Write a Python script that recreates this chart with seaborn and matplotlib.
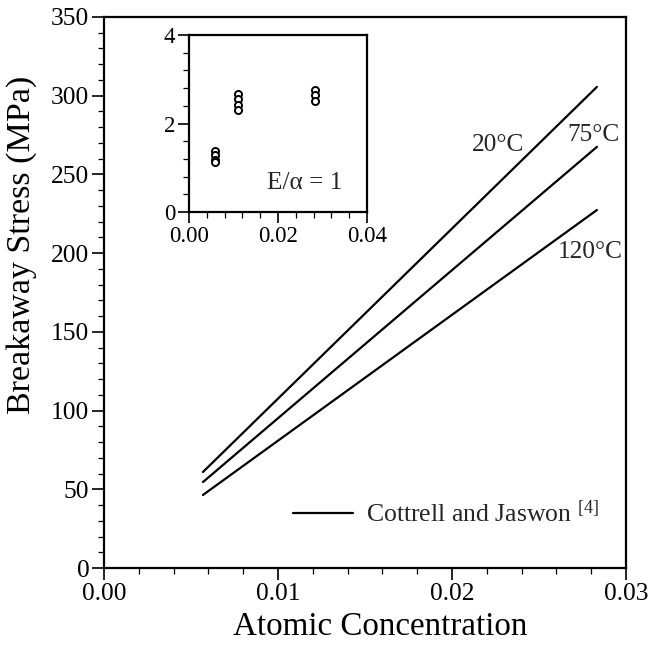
import matplotlib
matplotlib.use("Agg")
import matplotlib.pyplot as plt
from matplotlib.lines import Line2D
from matplotlib.ticker import MultipleLocator, FormatStrFormatter
import seaborn as sns
import pandas as pd

# Cottrell–Jaswon breakaway stress predictions (end points of each straight line)
conc = [0.00569, 0.02833]
stress_20C = [61.0, 305.6]
stress_75C = [54.6, 267.5]
stress_120C = [46.4, 227.4]
temp_labels = ["20°C", "75°C", "120°C"]

# Inset: ratio data at E/alpha = 1
inset_conc = [0.0058, 0.0058, 0.0058, 0.0058,
              0.0110, 0.0110, 0.0110, 0.0110,
              0.0283, 0.0283, 0.0283]
inset_ratio = [1.38, 1.28, 1.18, 1.12,
               2.67, 2.56, 2.42, 2.31,
               2.75, 2.65, 2.52]

sns.set_style("ticks")
plt.rcParams["font.family"] = ["Liberation Serif", "DejaVu Serif"]
plt.rcParams["mathtext.fontset"] = "custom"
plt.rcParams["mathtext.rm"] = "Liberation Serif"
plt.rcParams["mathtext.it"] = "Liberation Serif:italic"

df = pd.DataFrame({
    "conc": conc * 3,
    "stress": stress_20C + stress_75C + stress_120C,
    "temp": [t for t in temp_labels for _ in conc],
})

fig = plt.figure(figsize=(6.62, 6.46), dpi=100)
ax = fig.add_axes([0.157, 0.1207, 0.7886, 0.853])

sns.lineplot(data=df, x="conc", y="stress", units="temp", estimator=None,
             color="black", lw=1.6, legend=False, ax=ax)

ax.set_xlim(0, 0.03)
ax.set_ylim(0, 350)
ax.xaxis.set_major_locator(MultipleLocator(0.01))
ax.xaxis.set_minor_locator(MultipleLocator(0.002))
ax.xaxis.set_major_formatter(FormatStrFormatter("%.2f"))
ax.yaxis.set_major_locator(MultipleLocator(50))
ax.yaxis.set_minor_locator(MultipleLocator(10))
ax.tick_params(which="major", direction="out", length=8.5, width=1.2,
               labelsize=18.4, color="black", labelcolor="black", pad=2)
ax.tick_params(which="minor", direction="out", length=4, width=0.9, color="black")
for s in ax.spines.values():
    s.set_linewidth(1.6)
    s.set_color("black")
ax.set_xlabel("Atomic Concentration", fontsize=23.8, color="black")
ax.set_ylabel("Breakaway Stress (MPa)", fontsize=24.5, color="black")
ax.xaxis.set_label_coords(0.529, -0.078)
ax.yaxis.set_label_coords(-0.128, 0.586)

ax.text(0.02115, 269, "20°C", fontsize=18.3, ha="left", va="center")
ax.text(0.02966, 275, "75°C", fontsize=18.3, ha="right", va="center")
ax.text(0.0261, 201, "120°C", fontsize=18.3, ha="left", va="center")

handle = Line2D([], [], color="black", lw=1.6)
ax.legend([handle], ["Cottrell and Jaswon $^{[4]}$"], loc="lower left",
          bbox_to_anchor=(0.3185, 0.0327), frameon=False, fontsize=18.5,
          handlelength=2.34, handletextpad=0.5)

# Inset
ins = fig.add_axes([0.2855, 0.6718, 0.269, 0.274])
sns.scatterplot(x=inset_conc, y=inset_ratio, marker="o", s=26,
                facecolor="white", edgecolor="black", linewidth=1.4, ax=ins)
ins.set_xlim(0, 0.04)
ins.set_ylim(0, 4)
ins.xaxis.set_major_locator(MultipleLocator(0.02))
ins.xaxis.set_minor_locator(MultipleLocator(0.004))
ins.xaxis.set_major_formatter(FormatStrFormatter("%.2f"))
ins.yaxis.set_major_locator(MultipleLocator(2))
ins.yaxis.set_minor_locator(MultipleLocator(0.4))
ins.tick_params(which="major", direction="out", length=8, width=1.2,
                labelsize=16.5, color="black", labelcolor="black", pad=2)
ins.tick_params(which="minor", direction="out", length=4, width=0.9, color="black")
for s in ins.spines.values():
    s.set_linewidth(1.6)
    s.set_color("black")
ins.set_xlabel("")
ins.set_ylabel("")
ins.text(0.0175, 0.655, "E/α = 1", fontsize=18.2, ha="left", va="center")

fig.savefig("out.png", dpi=100)
